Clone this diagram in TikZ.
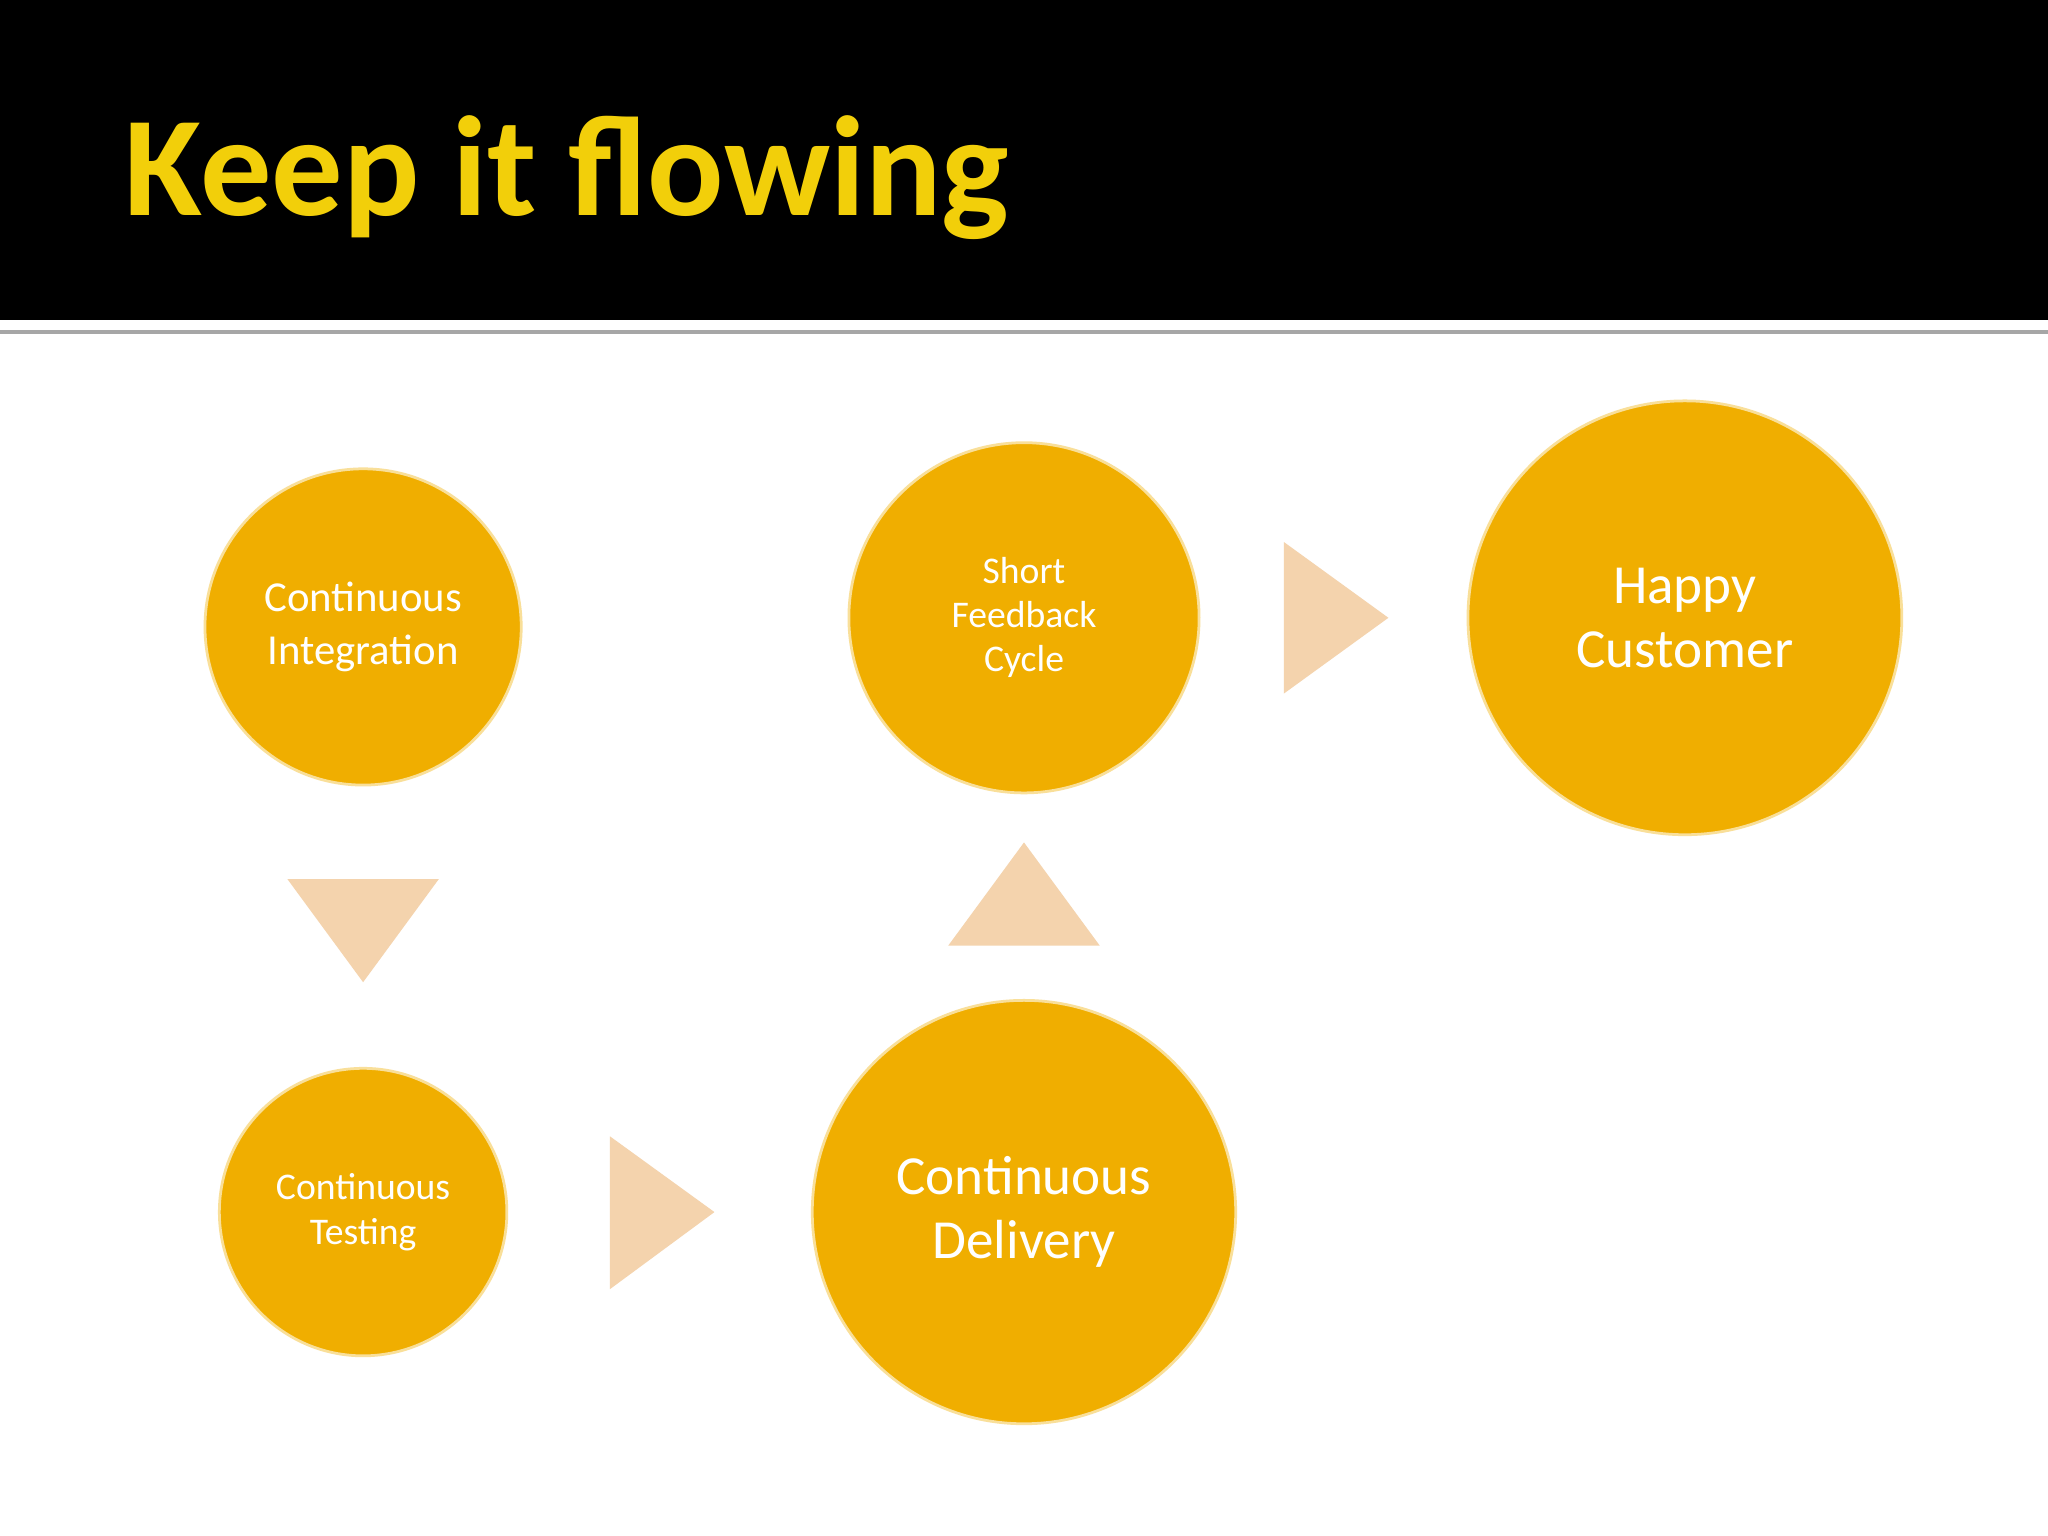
\documentclass[tikz,border=0pt]{standalone}
\usepackage{fontspec}
\setmainfont{Carlito}
\begin{document}
\begin{tikzpicture}[x=0.01cm,y=-0.01cm,
  circ/.style={circle,fill=gold,draw=gold!40!white,line width=0.6pt,text=white,align=center,inner sep=0pt},
  tri/.style={fill=peach,draw=none}]
\definecolor{gold}{HTML}{F0AE00}
\definecolor{peach}{HTML}{F4D3AD}
\definecolor{titleyellow}{HTML}{F2CF0A}
\fill[white] (0,0) rectangle (1568,1176);
\useasboundingbox (0,0) rectangle (1568,1176);
\fill[black] (0,0) rectangle (1568,245);
\fill[gray!70] (0,253) rectangle (1568,256);
\node[anchor=base west,text=titleyellow,font=\bfseries\fontsize{31}{36}\selectfont,inner sep=0pt] (title) at (95,165) {Keep it flowing};
\node[circ,minimum size=2.42cm,font=\fontsize{9.3}{11.5}\selectfont] (ci) at (278,480) {Continuous\\Integration};
\node[circ,minimum size=2.2cm,font=\fontsize{8.2}{9.8}\selectfont] (ct) at (278,928) {Continuous\\Testing};
\node[circ,minimum size=3.24cm,font=\fontsize{12}{14}\selectfont] (cd) at (784,928) {Continuous\\Delivery};
\node[circ,minimum size=2.68cm,font=\fontsize{8.2}{9.6}\selectfont] (sf) at (784,473) {Short\\Feedback\\Cycle};
\node[circ,minimum size=3.32cm,font=\fontsize{12}{14}\selectfont] (hc) at (1290,473) {Happy\\Customer};
\fill[tri] (220,673) -- (336,673) -- (278,752) -- cycle;
\fill[tri] (467,870) -- (467,987) -- (547,928) -- cycle;
\fill[tri] (726,724) -- (842,724) -- (784,645) -- cycle;
\fill[tri] (983,415) -- (983,531) -- (1063,473) -- cycle;
\end{tikzpicture}
\end{document}
